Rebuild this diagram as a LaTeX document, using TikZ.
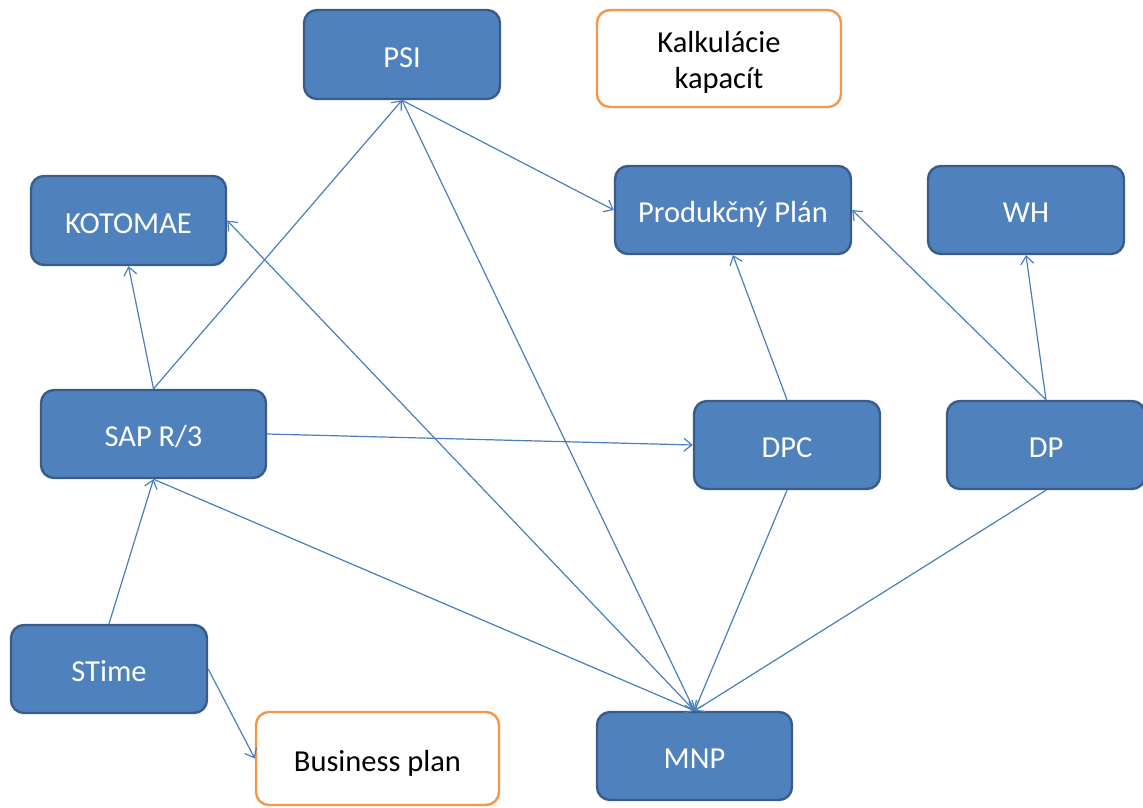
\documentclass[tikz,border=0pt]{standalone}
\usepackage{fontspec}
\setmainfont{Carlito}
\usetikzlibrary{arrows.meta}
\definecolor{boxfill}{HTML}{4F81BD}
\definecolor{boxline}{HTML}{385D8A}
\definecolor{orangeline}{HTML}{F79646}
\definecolor{linkcol}{HTML}{4A7EBB}
\begin{document}
\begin{tikzpicture}[x=1pt,y=-1pt,
  boxtext/.style={font=\fontsize{30.5}{36}\selectfont, align=center, inner sep=0pt},
  bluebox/.style={boxtext, draw=boxline, fill=boxfill, line width=2.4pt, rounded corners=13pt,
    text=white, text height=30pt, text depth=4.4pt},
  whitebox/.style={boxtext, draw=orangeline, fill=white, line width=2.4pt, rounded corners=13pt,
    text=black},
  link/.style={draw=linkcol, line width=1.2pt, -{Straight Barb[length=8pt,width=13pt]}}]
\useasboundingbox (0,0) rectangle (1143,807);

% boxes
\node[bluebox, minimum width=196pt, minimum height=89pt] (psi) at (402,54.5) {PSI};
\node[whitebox, minimum width=244pt, minimum height=97pt,
  label={[boxtext, yshift=-4pt]center:Kalkulácie\\kapacít}] (kalk) at (719,58.5) {};
\node[bluebox, minimum width=195pt, minimum height=89pt] (kot) at (128.5,220.5) {KOTOMAE};
\node[bluebox, minimum width=236pt, minimum height=88pt] (pp) at (733,210) {Produkčný Plán};
\node[bluebox, minimum width=196pt, minimum height=88pt] (wh) at (1026,210) {WH};
\node[bluebox, minimum width=225pt, minimum height=88pt] (sap) at (153.5,434) {SAP R/3};
\node[bluebox, minimum width=186pt, minimum height=88pt] (dpc) at (787,445) {DPC};
\node[bluebox, minimum width=198pt, minimum height=88pt] (dp) at (1046,445) {DP};
\node[bluebox, minimum width=196pt, minimum height=88pt] (stime) at (109,669) {STime};
\node[whitebox, minimum width=243pt, minimum height=93pt,
  text height=30pt, text depth=4.4pt] (bp) at (377.5,758.5) {Business plan};
\node[bluebox, minimum width=195pt, minimum height=88pt] (mnp) at (694.5,756) {MNP};

% connectors
\draw[link] (sap.north) -- (kot.south);
\draw[link] (sap.north) -- (psi.south);
\draw[link] (psi.south) -- (pp.west);
\draw[link] (psi.south) -- (mnp.north);
\draw[link] (mnp.north) -- (kot.east);
\draw[link] (sap.east) -- (dpc.west);
\draw[link] (sap.south) -- (mnp.north);
\draw[link] (stime.north) -- (sap.south);
\draw[link] (stime.east) -- (bp.west);
\draw[link] (dpc.north) -- (pp.south);
\draw[link] (dp.north) -- (pp.east);
\draw[link] (dp.north) -- (wh.south);
\draw[link] (dpc.south) -- (mnp.north);
\draw[link] (dp.south) -- (mnp.north);
\end{tikzpicture}
\end{document}
